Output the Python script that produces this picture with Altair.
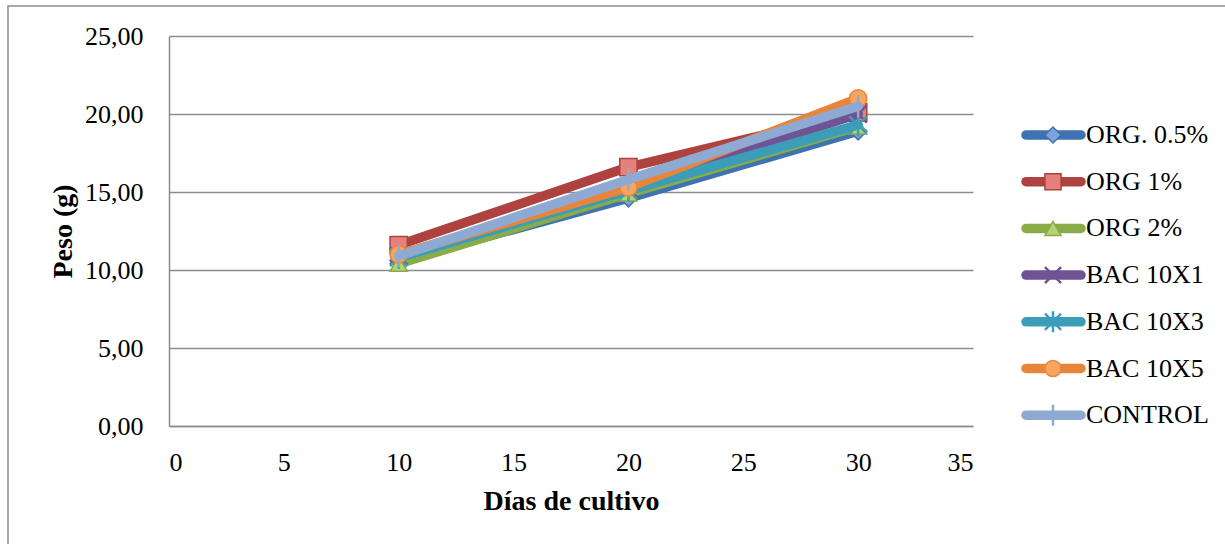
import altair as alt
import pandas as pd

# ---- data ----
dias = [10, 20, 30]
series_names = ["ORG. 0.5%", "ORG 1%", "ORG 2%", "BAC 10X1", "BAC 10X3", "BAC 10X5", "CONTROL"]
org_05 = [10.6, 14.6, 18.9]
org_1 = [11.6, 16.6, 20.1]
org_2 = [10.4, 14.9, 19.2]
bac_10x1 = [10.9, 15.2, 20.0]
bac_10x3 = [10.8, 15.1, 19.3]
bac_10x5 = [11.0, 15.3, 21.0]
control = [10.9, 15.8, 20.5]
values = [org_05, org_1, org_2, bac_10x1, bac_10x3, bac_10x5, control]

x_ticks = [0, 5, 10, 15, 20, 25, 30, 35]
y_ticks = [0, 5, 10, 15, 20, 25]

# ---- styles ----
line_colors = ["#3f72b3", "#ad423f", "#89ab48", "#6f5395", "#3c9db8", "#e9853a", "#8eaad3"]
fill_colors = ["#7ea3d8", "#e5807d", "#b3d375", "#6f5395", "#3c9db8", "#f8a55e", "#8eaad3"]
shapes = [
    "diamond",
    "square",
    "triangle-up",
    "M-1,-1L1,1M1,-1L-1,1",
    "M-1,-1L1,1M1,-1L-1,1M0,-1.3L0,1.3",
    "circle",
    "M0,-1.3L0,1.3",
]
stroke_widths = [1.5, 1.5, 1.5, 2.5, 2.5, 1.5, 2.5]
FONT = "Liberation Serif"
GRID = "#8c8c8c"
LABEL_SIZE = 26
TITLE_SIZE = 28

rows = []
for name, vals in zip(series_names, values):
    for d, v in zip(dias, vals):
        rows.append({"serie": name, "dia": d, "peso": v})
df = pd.DataFrame(rows)
legend_df = pd.DataFrame({"serie": series_names})
frame_df = pd.DataFrame({"a": [0]})

X = alt.X(
    "dia:Q",
    scale=alt.Scale(domain=[0, 35], nice=False),
    axis=alt.Axis(
        values=x_ticks, title="Días de cultivo", grid=False, ticks=False,
        labelPadding=23, labelFontSize=LABEL_SIZE, labelFont=FONT, labelColor="black",
        titleFont=FONT, titleFontSize=TITLE_SIZE, titleFontWeight="bold", titleColor="black",
        titleY=75, titleBaseline="middle",
        domainColor=GRID, domainWidth=1.5,
    ),
)
Y = alt.Y(
    "peso:Q",
    scale=alt.Scale(domain=[0, 25], nice=False),
    axis=alt.Axis(
        values=y_ticks, title="Peso (g)", grid=True, ticks=False,
        labelExpr="replace(format(datum.value, '.2f'), '.', ',')",
        labelPadding=26, labelFontSize=LABEL_SIZE, labelFont=FONT, labelColor="black",
        titleFont=FONT, titleFontSize=TITLE_SIZE, titleFontWeight="bold", titleColor="black",
        titleX=-106, titleY=195, titleAngle=270, titleBaseline="middle", titleAlign="center",
        gridColor=GRID, gridWidth=1.5, domainColor=GRID, domainWidth=1.5,
    ),
)

layers = []
# outer frame
layers.append(
    alt.Chart(frame_df).mark_rect(fillOpacity=0, stroke=GRID, strokeWidth=1.5).encode(
        x=alt.value(-161), x2=alt.value(1150), y=alt.value(-30), y2=alt.value(640)
    )
)

for i, name in enumerate(series_names):
    base = alt.Chart(df).transform_filter(alt.datum.serie == name)
    layers.append(
        base.mark_line(color=line_colors[i], strokeWidth=9.5, strokeCap="round", strokeJoin="round")
        .encode(x=X, y=Y)
    )
    layers.append(
        base.mark_point(
            shape=shapes[i], size=300, filled=True, fill=fill_colors[i],
            stroke=line_colors[i], strokeWidth=stroke_widths[i], opacity=1,
        ).encode(x=X, y=Y)
    )

# legend
for i, name in enumerate(series_names):
    ypix = 99 + i * 46.7
    lb = alt.Chart(legend_df).transform_filter(alt.datum.serie == name)
    layers.append(
        lb.mark_rule(color=line_colors[i], strokeWidth=9.5, strokeCap="round").encode(
            x=alt.value(857), x2=alt.value(912), y=alt.value(ypix)
        )
    )
    layers.append(
        lb.mark_point(
            shape=shapes[i], size=260, filled=True, fill=fill_colors[i],
            stroke=line_colors[i], strokeWidth=stroke_widths[i], opacity=1,
        ).encode(x=alt.value(884), y=alt.value(ypix))
    )
    layers.append(
        lb.mark_text(align="left", baseline="middle", font=FONT, fontSize=LABEL_SIZE, color="black").encode(
            x=alt.value(917), y=alt.value(ypix), text="serie:N"
        )
    )

chart = (
    alt.layer(*layers)
    .properties(
        width=804, height=390,
        padding={"left": 169, "top": 36, "right": 252, "bottom": 118},
        autosize="none",
        background="white",
    )
    .configure_view(stroke=None)
)

chart.save("out.html", embed_options={"renderer": "svg", "actions": False})
